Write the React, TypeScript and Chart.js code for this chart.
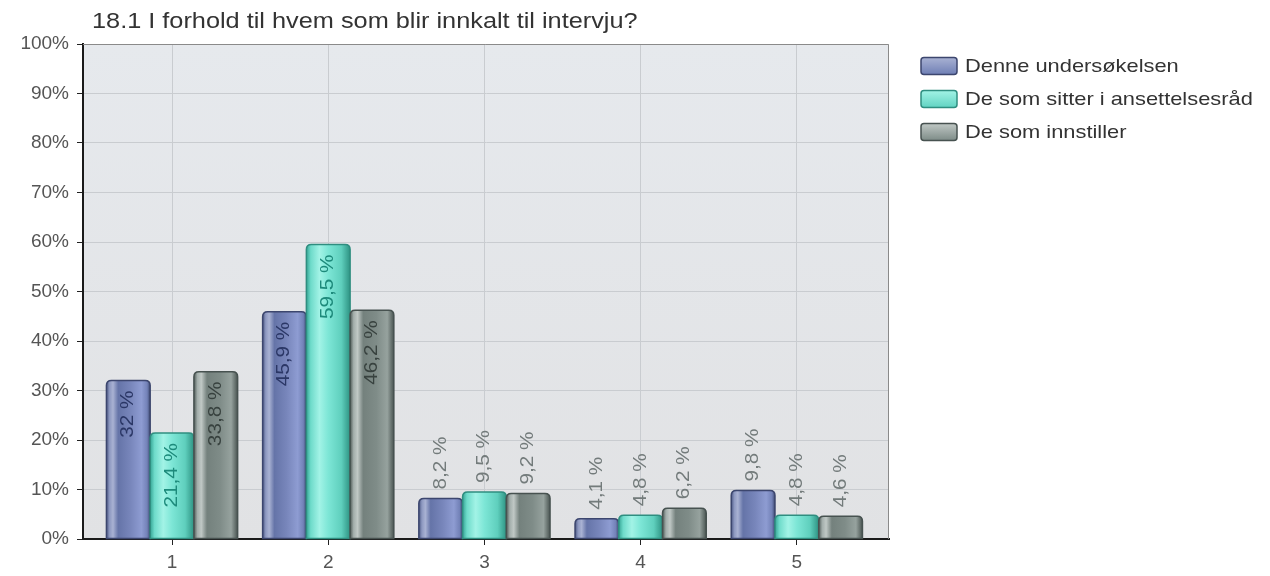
import React, { useEffect, useRef } from 'react';
import { Chart, registerables } from 'chart.js';

Chart.register(...registerables);

const TITLE = '18.1 I forhold til hvem som blir innkalt til intervju?';
const categories = ['1', '2', '3', '4', '5'];
const seriesNames = ['Denne undersøkelsen', 'De som sitter i ansettelsesråd', 'De som innstiller'];
const denneUndersokelsen = [32, 45.9, 8.2, 4.1, 9.8];
const ansettelsesrad = [21.4, 59.5, 9.5, 4.8, 4.8];
const innstiller = [33.8, 46.2, 9.2, 6.2, 4.6];
const yTickValues = [0, 10, 20, 30, 40, 50, 60, 70, 80, 90, 100];

const FONT = '"Liberation Sans", Arial, sans-serif';
const STRETCH = 1.15;

const baseColors = ['#6f7fb5', '#62d3c2', '#7d8b87'];
const borderColors = ['#3c466e', '#2f8e80', '#475250'];
const labelInside = ['#2b3766', '#1d8a7b', '#38423f'];
const labelOutside = '#737b7b';
const gradientStops: [number, string][][] = [
  [[0, '#4b5783'], [0.07, '#8d98c0'], [0.15, '#a9b2d3'], [0.27, '#6574a8'], [0.55, '#7886bb'], [0.8, '#8e9cd2'], [0.93, '#7382b8'], [1, '#3f4a72']],
  [[0, '#36a595'], [0.1, '#6edbca'], [0.3, '#a2f3e6'], [0.5, '#7de6d6'], [0.8, '#5fcfbd'], [1, '#2e9383']],
  [[0, '#4f5a57'], [0.08, '#a3aeab'], [0.17, '#c0c8c5'], [0.3, '#74817d'], [0.6, '#7f8c88'], [0.85, '#96a29e'], [1, '#4a5552']],
];

const fmt = (v: number) => (Number.isInteger(v) ? String(v) : v.toFixed(1).replace('.', ',')) + ' %';

function stretchedText(ctx: CanvasRenderingContext2D, text: string, x: number, y: number, align: 'left' | 'right') {
  const w = ctx.measureText(text).width * STRETCH;
  ctx.save();
  ctx.translate(align === 'left' ? x : x - w, y);
  ctx.scale(STRETCH, 1);
  ctx.textAlign = 'left';
  ctx.fillText(text, 0, 0);
  ctx.restore();
  return w;
}

function barPath(ctx: CanvasRenderingContext2D, l: number, t: number, w: number, h: number, r: number) {
  const rr = Math.min(r, h, w / 2);
  ctx.beginPath();
  ctx.moveTo(l, t + h);
  ctx.lineTo(l, t + rr);
  ctx.quadraticCurveTo(l, t, l + rr, t);
  ctx.lineTo(l + w - rr, t);
  ctx.quadraticCurveTo(l + w, t, l + w, t + rr);
  ctx.lineTo(l + w, t + h);
  ctx.closePath();
}

const decorPlugin = {
  id: 'decor',
  beforeDraw(chart: any) {
    const { ctx, chartArea: a } = chart;
    ctx.save();
    const g = ctx.createLinearGradient(0, a.top, 0, a.bottom);
    g.addColorStop(0, '#e6e9ed');
    g.addColorStop(1, '#e1e2e4');
    ctx.fillStyle = g;
    ctx.fillRect(a.left, a.top, a.right - a.left, a.bottom - a.top);
    // title
    ctx.fillStyle = '#333';
    ctx.font = `22px ${FONT}`;
    ctx.textBaseline = 'alphabetic';
    stretchedText(ctx, TITLE, 92, 28, 'left');
    // legend
    ctx.font = `19px ${FONT}`;
    ctx.textBaseline = 'middle';
    seriesNames.forEach((name, i) => {
      const cy = 66 + i * 33;
      const sx = 921, sw = 36, sh = 17;
      const lg = ctx.createLinearGradient(0, cy - sh / 2, 0, cy + sh / 2);
      lg.addColorStop(0, gradientStops[i][2][1]);
      lg.addColorStop(1, baseColors[i]);
      ctx.fillStyle = lg;
      ctx.strokeStyle = borderColors[i];
      ctx.lineWidth = 1.5;
      ctx.beginPath();
      ctx.roundRect(sx, cy - sh / 2, sw, sh, 3);
      ctx.fill();
      ctx.stroke();
      ctx.fillStyle = '#333';
      stretchedText(ctx, name, 965, cy + 1, 'left');
    });
    ctx.restore();
  },
  afterDatasetsDraw(chart: any) {
    const { ctx, chartArea: a } = chart;
    ctx.save();
    chart.data.datasets.forEach((ds: any, d: number) => {
      const meta = chart.getDatasetMeta(d);
      meta.data.forEach((el: any) => {
        const { x, y, base, width } = el.getProps(['x', 'y', 'base', 'width'], true);
        const l = x - width / 2;
        const h = base - y;
        const g = ctx.createLinearGradient(l, 0, l + width, 0);
        gradientStops[d].forEach(([o, c]) => g.addColorStop(o, c));
        barPath(ctx, l, y, width, h, 5);
        ctx.fillStyle = g;
        ctx.fill();
        ctx.strokeStyle = borderColors[d];
        ctx.lineWidth = 1.5;
        ctx.stroke();
      });
    });
    // labels
    ctx.font = `18px ${FONT}`;
    ctx.textBaseline = 'middle';
    chart.data.datasets.forEach((ds: any, d: number) => {
      const meta = chart.getDatasetMeta(d);
      meta.data.forEach((el: any, i: number) => {
        const { x, y, base } = el.getProps(['x', 'y', 'base'], true);
        const v = ds.data[i].y as number;
        const text = fmt(v);
        const tw = ctx.measureText(text).width * STRETCH;
        const h = base - y;
        ctx.save();
        if (h > tw + 22) {
          ctx.translate(x, y + 10);
          ctx.rotate(-Math.PI / 2);
          ctx.fillStyle = labelInside[d];
          stretchedText(ctx, text, 0, 0, 'right');
        } else {
          ctx.translate(x, y - 9);
          ctx.rotate(-Math.PI / 2);
          ctx.fillStyle = labelOutside;
          stretchedText(ctx, text, 0, 0, 'left');
        }
        ctx.restore();
      });
    });
    // top and right border
    ctx.strokeStyle = '#8a8a8a';
    ctx.lineWidth = 1;
    ctx.beginPath();
    ctx.moveTo(a.left, a.top + 0.5);
    ctx.lineTo(a.right - 0.5, a.top + 0.5);
    ctx.lineTo(a.right - 0.5, a.bottom);
    ctx.stroke();
    ctx.restore();
  },
};

export default function App() {
  const ref = useRef<HTMLCanvasElement>(null);
  useEffect(() => {
    const seriesValues = [denneUndersokelsen, ansettelsesrad, innstiller];
    const chart = new Chart(ref.current!, {
      type: 'bar',
      data: {
        datasets: seriesValues.map((vals, d) => ({
          label: seriesNames[d],
          data: vals.map((v, i) => ({ x: i + 1, y: v })),
          backgroundColor: baseColors[d],
          borderColor: borderColors[d],
          borderWidth: 1,
          borderRadius: { topLeft: 5, topRight: 5, bottomLeft: 0, bottomRight: 0 },
          borderSkipped: 'bottom',
          categoryPercentage: 0.84,
          barPercentage: 1,
        })),
      },
      options: {
        animation: false,
        responsive: false,
        maintainAspectRatio: false,
        layout: { padding: { top: 44, right: 381, left: 0, bottom: 0 } },
        plugins: { legend: { display: false }, title: { display: false }, tooltip: { enabled: false } },
        scales: {
          x: {
            type: 'linear',
            min: 0.43,
            max: 5.59,
            offset: false,
            afterBuildTicks: (scale: any) => {
              scale.ticks = categories.map((_, i) => ({ value: i + 1 }));
            },
            afterFit: (scale: any) => {
              scale.height = 37;
            },
            ticks: {
              callback: (v: any) => categories[Number(v) - 1] ?? '',
              color: '#555',
              font: { family: FONT, size: 19 },
              padding: 6,
              maxRotation: 0,
            },
            grid: { offset: false, color: '#c9ccd0', lineWidth: 1, tickLength: 6, tickColor: '#222' },
            border: { color: '#1a1a1a', width: 2 },
          },
          y: {
            min: 0,
            max: 100,
            afterBuildTicks: (scale: any) => {
              scale.ticks = yTickValues.map((v) => ({ value: v }));
            },
            afterFit: (scale: any) => {
              scale.width = 83;
            },
            ticks: {
              callback: (v: any) => `${v}%`,
              color: '#555',
              font: { family: FONT, size: 19 },
              padding: 8,
            },
            grid: { color: '#c9ccd0', lineWidth: 1, tickLength: 6, tickColor: '#222' },
            border: { color: '#1a1a1a', width: 2 },
          },
        },
      },
      plugins: [decorPlugin],
    });
    return () => chart.destroy();
  }, []);
  return (
    <div style={{ position: 'absolute', left: 0, top: 0, width: 1270, height: 576, background: '#fff' }}>
      <canvas ref={ref} width={1270} height={576} style={{ display: 'block', width: 1270, height: 576 }} />
    </div>
  );
}
